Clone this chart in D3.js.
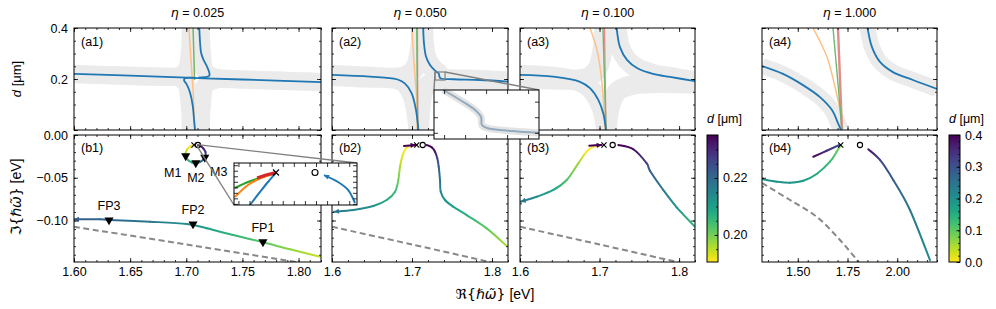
<!DOCTYPE html>
<html>
<head>
<meta charset="utf-8">
<script src="https://cdn.jsdelivr.net/npm/d3@7"></script>
<style>
  body { margin: 0; background: #fff; }
</style>
</head>
<body>
<svg id="fig" width="996" height="309"></svg>
<script>
"use strict";
// ---------------- data ----------------
const etaLabels = ["0.025", "0.050", "0.100", "1.000"];
const reDomain = [1.60, 1.82], reDomainWide = [1.32, 2.20];
const dDomain = [0, 0.4], imDomain = [-0.1485, 0];
const cbNarrow = [0.1905, 0.2351], cbWide = [0, 0.4];

// top row: [Re, d]
const a1BlueH = [[1.600, 0.220], [1.650, 0.213], [1.700, 0.205], [1.750, 0.198], [1.820, 0.188]];
const a1BlueUp = [[1.7116, 0.400], [1.7123, 0.342], [1.7132, 0.303], [1.7152, 0.277], [1.7182, 0.251], [1.7205, 0.225], [1.7205, 0.213], [1.7167, 0.207], [1.7108, 0.205]];
const a1BlueLow = [[1.7078, 0.205], [1.6989, 0.203], [1.6980, 0.195], [1.7004, 0.179], [1.7034, 0.146], [1.7058, 0.094], [1.7069, 0.042], [1.7078, 0.0]];
const a1Orange = [[1.7024, 0.40], [1.7042, 0.275], [1.7060, 0.157], [1.7074, 0.0]];
const a1Green = [[1.7060, 0.40], [1.7069, 0.275], [1.7074, 0.196]];
const a1GrayUL = [[1.600, 0.220], [1.680, 0.209], [1.694, 0.212], [1.700, 0.235], [1.703, 0.30], [1.704, 0.40]];
const a1GrayLL = [[1.600, 0.220], [1.680, 0.209], [1.694, 0.205], [1.700, 0.18], [1.703, 0.10], [1.704, 0.0]];
const a1GrayUR = [[1.713, 0.40], [1.714, 0.30], [1.717, 0.228], [1.727, 0.205], [1.750, 0.198], [1.820, 0.188]];
const a1GrayLR = [[1.713, 0.0], [1.714, 0.10], [1.717, 0.175], [1.727, 0.198], [1.750, 0.198], [1.820, 0.188]];

const a2BlueL = [[1.600, 0.216], [1.6475, 0.209], [1.681, 0.199], [1.691, 0.183], [1.6996, 0.144], [1.705, 0.078], [1.708, 0.0]];
const a2BlueR = [[1.714, 0.40], [1.715, 0.340], [1.7175, 0.288], [1.7225, 0.255], [1.7288, 0.233], [1.7335, 0.221], [1.7345, 0.207], [1.736, 0.202], [1.752, 0.199], [1.785, 0.196], [1.820, 0.190]];
const a2Orange = [[1.6996, 0.40], [1.7029, 0.248], [1.7059, 0.118], [1.7066, 0.0]];
const a2Green = [[1.7059, 0.40], [1.7071, 0.0]];
const a2Red = [[1.7068, 0.40], [1.7073, 0.0]];
const a2GrayUL = [[1.600, 0.212], [1.670, 0.205], [1.692, 0.212], [1.704, 0.245], [1.710, 0.32], [1.712, 0.40]];
const a2GrayLR = [[1.709, 0.0], [1.711, 0.10], [1.716, 0.165], [1.728, 0.188], [1.750, 0.192], [1.820, 0.188]];
const a2InsetLine = [[1.7299, 0.2275], [1.7323, 0.2198], [1.7337, 0.2146], [1.7344, 0.2101], [1.7345, 0.2050], [1.7351, 0.2031], [1.7382, 0.2011], [1.7413, 0.1999]];
const a2InsetX = [1.7288, 1.7413], a2InsetD = [0.196, 0.2275];

const a3BlueL = [[1.600, 0.216], [1.6419, 0.209], [1.6754, 0.189], [1.688, 0.164], [1.6984, 0.118], [1.7047, 0.065], [1.7081, 0.0]];
const a3BlueR = [[1.7215, 0.40], [1.7257, 0.325], [1.7345, 0.275], [1.7471, 0.243], [1.7672, 0.220], [1.7886, 0.208], [1.820, 0.192]];
const a3Orange = [[1.688, 0.40], [1.6968, 0.314], [1.7031, 0.184], [1.7069, 0.0]];
const a3Green = [[1.7043, 0.40], [1.7081, 0.0]];
const a3Red = [[1.7062, 0.40], [1.7081, 0.0]];
const a3GrayUL = [[1.600, 0.205], [1.660, 0.197], [1.686, 0.207], [1.698, 0.245], [1.704, 0.32], [1.706, 0.40]];
const a3GrayLR = [[1.709, 0.0], [1.713, 0.09], [1.722, 0.15], [1.740, 0.176], [1.770, 0.184], [1.820, 0.182]];

const a4BlueL = [[1.320, 0.251], [1.4256, 0.220], [1.5261, 0.176], [1.6116, 0.129], [1.6719, 0.078], [1.7021, 0.027], [1.7172, 0.0]];
const a4BlueR = [[1.851, 0.40], [1.873, 0.325], [1.9132, 0.267], [1.9786, 0.227], [2.0791, 0.196], [2.200, 0.161]];
const a4Orange = [[1.5764, 0.40], [1.6468, 0.286], [1.687, 0.169], [1.7121, 0.078], [1.7222, 0.0]];
const a4Green = [[1.677, 0.40], [1.700, 0.20], [1.7222, 0.0]];
const a4Red = [[1.7021, 0.40], [1.7222, 0.0]];

// bottom row: [Re, Im, d]
const b1Main = [[1.600, -0.0986, 0.222], [1.6232, -0.0986, 0.221], [1.632, -0.0994, 0.220], [1.6677, -0.1014, 0.217], [1.7004, -0.1041, 0.213], [1.7182, -0.1091, 0.210], [1.7419, -0.1170, 0.206], [1.7686, -0.1255, 0.202], [1.7924, -0.1337, 0.198], [1.8191, -0.1423, 0.194]];
const b1Loop = [[1.7069, -0.0117, 0.190], [1.7033, -0.0135, 0.191], [1.7007, -0.0170, 0.193], [1.6993, -0.0216, 0.196], [1.6998, -0.0257, 0.200], [1.7020, -0.0298, 0.205], [1.7051, -0.0322, 0.209], [1.7087, -0.0327, 0.213], [1.7122, -0.0316, 0.217], [1.7153, -0.0287, 0.221], [1.7171, -0.0246, 0.225], [1.7171, -0.0199, 0.228], [1.7153, -0.0158, 0.231], [1.7127, -0.0129, 0.233], [1.7104, -0.0117, 0.235]];
const b1Dash = [[1.60, -0.1073], [1.70, -0.1280], [1.80, -0.1490]];
const b1FP = [[1.6312, -0.0994], [1.7060, -0.1041], [1.7683, -0.1251]];
const b1FPNames = ["FP3", "FP2", "FP1"];
const b1M = [[1.6995, -0.0245], [1.7085, -0.0327], [1.7165, -0.0262]];
const b1MNames = ["M1", "M2", "M3"];
const b1Poles = [[1.7069, -0.0117], [1.7104, -0.0117]];

const b1InsetX = [1.7031, 1.7142], b1InsetY = [-0.0146, -0.0108];
const b1InsBlueL = [[1.70454, -0.01460], [1.70545, -0.01342], [1.70617, -0.01252], [1.70689, -0.01170]];
const b1InsOrange = [[1.70319, -0.01388], [1.70436, -0.01279], [1.70554, -0.01216], [1.70689, -0.01170]];
const b1InsGreen = [[1.70319, -0.01306], [1.70436, -0.01252], [1.70554, -0.01211], [1.70689, -0.01170]];
const b1InsRed = [[1.70518, -0.01216], [1.70599, -0.01189], [1.70689, -0.01166]];
const b1InsBlueR = [[1.71122, -0.01189], [1.71249, -0.01252], [1.71339, -0.01324], [1.71402, -0.01442]];
const b1InsPoles = [[1.70689, -0.01166], [1.71041, -0.01166]];

const b2Left = [[1.6025, -0.0897, 0.217], [1.6267, -0.0877, 0.215], [1.6517, -0.0830, 0.2126], [1.6684, -0.0760, 0.208], [1.6788, -0.0663, 0.205], [1.6829, -0.0526, 0.200], [1.6850, -0.0371, 0.196], [1.6884, -0.0234, 0.192], [1.6925, -0.0156, 0.190], [1.6975, -0.0129, 0.188], [1.7059, -0.0117, 0.185]];
const b2Purple = [[1.690, -0.0128, 0.40], [1.7045, -0.0117, 0.40]];
const b2Right = [[1.7184, -0.0117, 0.40], [1.7246, -0.0144, 0.240], [1.7288, -0.0195, 0.232], [1.7316, -0.0273, 0.226], [1.7334, -0.0371, 0.222], [1.7350, -0.0526, 0.218], [1.7359, -0.0663, 0.214], [1.7413, -0.0760, 0.212], [1.7516, -0.0839, 0.210], [1.7684, -0.0936, 0.207], [1.7934, -0.1092, 0.2016], [1.8184, -0.1298, 0.196]];
const b2Poles = [[1.7059, -0.0117], [1.7134, -0.0117]];

const b3Left = [[1.6009, -0.0780, 0.217], [1.6210, -0.0722, 0.213], [1.6419, -0.0643, 0.209], [1.6587, -0.0526, 0.203], [1.6733, -0.0331, 0.197], [1.6838, -0.0195, 0.190], [1.6922, -0.0137, 0.188], [1.7006, -0.0117, 0.186]];
const b3Purple = [[1.6871, -0.0125, 0.40], [1.7027, -0.0117, 0.40]];
const b3Right = [[1.7236, -0.0117, 0.40], [1.7424, -0.0167, 0.234], [1.7593, -0.0331, 0.226], [1.7634, -0.0418, 0.222], [1.7801, -0.0643, 0.217], [1.7970, -0.0846, 0.212], [1.8200, -0.1073, 0.205]];
const b3Poles = [[1.7056, -0.0117], [1.7165, -0.0117]];

const b4Left = [[1.3235, -0.0518, 0.20], [1.3939, -0.0546, 0.195], [1.4608, -0.0558, 0.19], [1.5278, -0.0535, 0.18], [1.5950, -0.0456, 0.16], [1.6619, -0.0312, 0.13], [1.6955, -0.0195, 0.10], [1.7157, -0.0117, 0.08]];
const b4Purple = [[1.5780, -0.0254, 0.39], [1.6453, -0.0184, 0.35], [1.7086, -0.0117, 0.30]];
const b4Right = [[1.8545, -0.0167, 0.38], [1.9133, -0.0292, 0.32], [1.9801, -0.0526, 0.28], [2.0641, -0.0877, 0.24], [2.1646, -0.1462, 0.21]];
const b4Dash = [[1.320, -0.0561], [1.4608, -0.0760], [1.5965, -0.0959], [1.7122, -0.1228], [1.7977, -0.1462], [1.810, -0.1500]];
const b4Poles = [[1.7157, -0.0117], [1.8127, -0.0117]];

// ticks
const dMajor = [0, 0.2, 0.4];
const imMajor = [0, -0.05, -0.10];
const reMajorFine = [1.60, 1.65, 1.70, 1.75, 1.80];
const reMajor = [1.6, 1.7, 1.8];
const reMajorWide = [1.50, 1.75, 2.00];
const cbNarrowMajor = [0.20, 0.22];
const cbWideMajor = [0, 0.1, 0.2, 0.3, 0.4];

// ---------------- drawing ----------------
const FONT = "'Liberation Sans', Arial, Helvetica, sans-serif";
const MATH = "'DejaVu Sans', sans-serif";
const FS = 12.5;
const BLUE = "#1f77b4", ORANGE_L = "#ffbf86", GREEN_L = "#6fb86f", RED_L = "#e58a8a", GRAY_BAND = "#ebebeb";
const svg = d3.select("#fig");
const defs = svg.append("defs");
let uid = 0;

const cols = [[74, 321], [332, 508], [520, 695], [762, 937]];
const topRow = [28, 130], botRow = [135, 262];

function panel(xDom, xr, yDom, yr) {
  const x = d3.scaleLinear().domain(xDom).range(xr);
  const y = d3.scaleLinear().domain(yDom).range([yr[1], yr[0]]);
  const cid = "clip" + (uid++);
  defs.append("clipPath").attr("id", cid).append("rect")
    .attr("x", xr[0]).attr("y", yr[0]).attr("width", xr[1] - xr[0]).attr("height", yr[1] - yr[0]);
  const g = svg.append("g");
  const plot = g.append("g").attr("clip-path", `url(#${cid})`);
  const axes = g.append("g");
  return { x, y, plot, axes, xr, yr };
}

function tickAxis(g, axis, scale, vals, size, tr, fmt, pad) {
  const a = axis(scale).tickValues(vals).tickSize(-size).tickSizeOuter(0)
    .tickPadding(pad || 0).tickFormat(fmt || (() => ""));
  const s = g.append("g").attr("transform", tr).call(a);
  s.select(".domain").remove();
  s.selectAll("line").attr("stroke", "#000").attr("stroke-width", 0.8);
  s.selectAll("text").attr("font-size", FS).attr("font-family", FONT).attr("fill", "#000");
  return s;
}

function frame(p, xMaj, xMin, yMaj, yMin, xFmt, yFmt) {
  const [l, r] = p.xr, [t, b] = p.yr;
  const sides = [
    [d3.axisBottom, p.x, `translate(0,${b})`, xMaj, xMin, xFmt, 5],
    [d3.axisTop, p.x, `translate(0,${t})`, xMaj, xMin, null, 0],
    [d3.axisLeft, p.y, `translate(${l},0)`, yMaj, yMin, yFmt, 6],
    [d3.axisRight, p.y, `translate(${r},0)`, yMaj, yMin, null, 0]];
  sides.forEach(([ax, s, tr, maj, min, fmt, pad]) => {
    tickAxis(p.axes, ax, s, min, 2, tr, null, 0);
    tickAxis(p.axes, ax, s, maj, 4, tr, fmt, pad);
  });
  p.axes.append("rect").attr("x", l).attr("y", t).attr("width", r - l).attr("height", b - t)
    .attr("fill", "none").attr("stroke", "#000").attr("stroke-width", 1);
}

function line(g, pts, x, y, color, w, dash) {
  const gen = d3.line().x(d => x(d[0])).y(d => y(d[1])).curve(d3.curveCatmullRom);
  const el = g.append("path").attr("d", gen(pts)).attr("fill", "none")
    .attr("stroke", color).attr("stroke-width", w).attr("stroke-linejoin", "round");
  if (dash) el.attr("stroke-dasharray", dash);
  return el;
}

function colorScale(dom) {
  return d => d3.interpolateViridis(1 - Math.max(0, Math.min(1, (d - dom[0]) / (dom[1] - dom[0]))));
}

// d-coloured curve: one cubic piece per data interval, each with its own gradient
function colorPath(g, pts, x, y, col, w) {
  const P = pts.map(p => [x(p[0]), y(p[1]), p[2]]);
  for (let i = 0; i < P.length - 1; i++) {
    const p0 = P[Math.max(i - 1, 0)], p1 = P[i], p2 = P[i + 1], p3 = P[Math.min(i + 2, P.length - 1)];
    const c1 = [p1[0] + (p2[0] - p0[0]) / 6, p1[1] + (p2[1] - p0[1]) / 6];
    const c2 = [p2[0] - (p3[0] - p1[0]) / 6, p2[1] - (p3[1] - p1[1]) / 6];
    const id = "lg" + (uid++);
    const lg = defs.append("linearGradient").attr("id", id).attr("gradientUnits", "userSpaceOnUse")
      .attr("x1", p1[0]).attr("y1", p1[1]).attr("x2", p2[0] + 0.01).attr("y2", p2[1]);
    lg.append("stop").attr("offset", 0).attr("stop-color", col(p1[2]));
    lg.append("stop").attr("offset", 1).attr("stop-color", col(p2[2]));
    g.append("path").attr("d", `M${p1[0]},${p1[1]}C${c1[0]},${c1[1]} ${c2[0]},${c2[1]} ${p2[0]},${p2[1]}`)
      .attr("fill", "none").attr("stroke", `url(#${id})`).attr("stroke-width", w).attr("stroke-linecap", "round");
  }
}

function arrowHead(g, tip, from, color, len, half) {
  const dx = tip[0] - from[0], dy = tip[1] - from[1], L = Math.hypot(dx, dy) || 1;
  const ux = dx / L, uy = dy / L, bx = tip[0] - ux * len, by = tip[1] - uy * len;
  g.append("path").attr("d", `M${tip[0]},${tip[1]}L${bx - uy * half},${by + ux * half}L${bx + uy * half},${by - ux * half}Z`)
    .attr("fill", color);
}

function arrowAt(g, pts, x, y, color, atEnd) {
  const n = pts.length;
  const tip = atEnd ? pts[n - 1] : pts[0], from = atEnd ? pts[n - 2] : pts[1];
  arrowHead(g, [x(tip[0]), y(tip[1])], [x(from[0]), y(from[1])], color, 5, 2.6);
}

function poles(g, pp, x, y, r) {
  const [cx, cy] = [x(pp[0][0]), y(pp[0][1])];
  g.append("path").attr("d", `M${cx - r},${cy - r}L${cx + r},${cy + r}M${cx - r},${cy + r}L${cx + r},${cy - r}`)
    .attr("stroke", "#000").attr("stroke-width", 1.1);
  g.append("circle").attr("cx", x(pp[1][0])).attr("cy", y(pp[1][1])).attr("r", r)
    .attr("fill", "none").attr("stroke", "#000").attr("stroke-width", 1.1);
}

function tri(g, pt, x, y) {
  g.append("path").attr("d", d3.symbol(d3.symbolTriangle, 36)())
    .attr("transform", `translate(${x(pt[0])},${y(pt[1])}) rotate(180)`).attr("fill", "#000");
}

function label(g, x, y, txt, anchor) {
  return g.append("text").attr("x", x).attr("y", y).attr("font-family", FONT).attr("font-size", FS)
    .attr("text-anchor", anchor || "start").attr("fill", "#000").text(txt);
}

const f1 = d3.format(".1f"), f2 = d3.format(".2f");
const dMinor = d3.range(0, 0.4001, 0.05);
const imMinor = d3.range(-0.14, 0.0001, 0.01);
const reMinorFine = d3.range(1.60, 1.8201, 0.01);
const reMinor = d3.range(1.60, 1.8201, 0.02);
const reMinorWide = d3.range(1.35, 2.2001, 0.05);

// ---- top row ----
const A = [0, 1, 2, 3].map(i => panel(i === 3 ? reDomainWide : reDomain, cols[i], dDomain, topRow));
const B = [0, 1, 2, 3].map(i => panel(i === 3 ? reDomainWide : reDomain, cols[i], imDomain, botRow));

function gray(p, arrs, w) { arrs.forEach(a => line(p.plot, a, p.x, p.y, GRAY_BAND, w)); }

gray(A[0], [a1GrayUL, a1GrayLL, a1GrayUR, a1GrayLR], 18);
gray(A[1], [a2GrayUL, a2BlueL, a2BlueR, a2GrayLR], 20);
gray(A[2], [a3GrayUL, a3BlueL, a3BlueR, a3GrayLR], 20);
gray(A[3], [a4BlueL, a4BlueR], 16);

line(A[0].plot, a1Orange, A[0].x, A[0].y, ORANGE_L, 1.5);
line(A[0].plot, a1Green, A[0].x, A[0].y, GREEN_L, 1.5);
[a1BlueH, a1BlueUp, a1BlueLow].forEach(a => line(A[0].plot, a, A[0].x, A[0].y, BLUE, 1.8));

[[A[1], a2Orange, a2Red, a2Green, a2BlueL, a2BlueR], [A[2], a3Orange, a3Red, a3Green, a3BlueL, a3BlueR],
 [A[3], a4Orange, a4Red, a4Green, a4BlueL, a4BlueR]].forEach(([p, o, r, gr, bl, br]) => {
  line(p.plot, o, p.x, p.y, ORANGE_L, 1.5);
  line(p.plot, r, p.x, p.y, RED_L, p === A[3] ? 2.4 : 1.3);
  line(p.plot, gr, p.x, p.y, GREEN_L, 1.4);
  line(p.plot, bl, p.x, p.y, BLUE, 1.8);
  line(p.plot, br, p.x, p.y, BLUE, 1.8);
});

A.forEach((p, i) => {
  const wide = i === 3;
  frame(p, wide ? reMajorWide : (i === 0 ? reMajorFine : reMajor), wide ? reMinorWide : (i === 0 ? reMinorFine : reMinor),
    dMajor, dMinor, null, i === 0 ? (v => v === 0 ? "" : f1(v)) : null);
  label(p.axes, p.xr[0] + 7, p.yr[0] + 18, `(a${i + 1})`);
  const t = svg.append("text").attr("x", (p.xr[0] + p.xr[1]) / 2).attr("y", 17).attr("text-anchor", "middle")
    .attr("font-family", FONT).attr("font-size", FS);
  t.append("tspan").attr("font-family", MATH).attr("font-style", "italic").text("η");
  t.append("tspan").text(" = " + etaLabels[i]);
});

// ---- bottom row ----
const cN = colorScale(cbNarrow), cW = colorScale(cbWide);
[B[0], B[1], B[2]].forEach(p => line(p.plot, b1Dash, p.x, p.y, "#888", 2, "6,3.5"));
line(B[3].plot, b4Dash, B[3].x, B[3].y, "#888", 2, "6,3.5");

{ const p = B[0];
  colorPath(p.plot, b1Main, p.x, p.y, cN, 2);
  arrowAt(p.plot, b1Main, p.x, p.y, cN(b1Main[0][2]), false);
  colorPath(p.plot, b1Loop, p.x, p.y, cN, 2);
  poles(p.plot, b1Poles, p.x, p.y, 2.6);
  b1FP.forEach((pt, i) => { tri(p.plot, pt, p.x, p.y); label(p.plot, p.x(pt[0]), p.y(pt[1]) - 10, b1FPNames[i], "middle"); });
  const mOff = [[-13, 21], [0, 19], [14, 19]];
  b1M.forEach((pt, i) => { tri(p.plot, pt, p.x, p.y); label(p.plot, p.x(pt[0]) + mOff[i][0], p.y(pt[1]) + mOff[i][1], b1MNames[i], "middle"); });
}
[[B[1], b2Left, b2Purple, b2Right, b2Poles], [B[2], b3Left, b3Purple, b3Right, b3Poles]].forEach(([p, L, P, R, pp]) => {
  colorPath(p.plot, L, p.x, p.y, cN, 2);
  arrowAt(p.plot, L, p.x, p.y, cN(L[0][2]), false);
  colorPath(p.plot, R, p.x, p.y, cN, 2);
  colorPath(p.plot, P, p.x, p.y, cN, 2);
  arrowAt(p.plot, P, p.x, p.y, cN(0.4), true);
  poles(p.plot, pp, p.x, p.y, 2.6);
});
{ const p = B[3];
  colorPath(p.plot, b4Left, p.x, p.y, cW, 2);
  colorPath(p.plot, b4Purple, p.x, p.y, cW, 2);
  colorPath(p.plot, b4Right, p.x, p.y, cW, 2);
  poles(p.plot, b4Poles, p.x, p.y, 2.6);
}

B.forEach((p, i) => {
  const wide = i === 3;
  frame(p, wide ? reMajorWide : (i === 0 ? reMajorFine : reMajor), wide ? reMinorWide : (i === 0 ? reMinorFine : reMinor),
    imMajor, imMinor, (i === 0 || wide) ? f2 : f1, i === 0 ? f2 : null);
  label(p.axes, p.xr[0] + 7, p.yr[0] + 17, `(b${i + 1})`);
});

// ---- colour bars ----
function colorbar(x0, dom, major, minorStep, fmt) {
  const w = 11, [t, b] = botRow;
  const id = "cb" + (uid++);
  const lg = defs.append("linearGradient").attr("id", id).attr("x1", 0).attr("y1", 1).attr("x2", 0).attr("y2", 0);
  d3.range(0, 1.0001, 0.05).forEach(s => lg.append("stop").attr("offset", s).attr("stop-color", d3.interpolateViridis(1 - s)));
  const g = svg.append("g");
  g.append("rect").attr("x", x0).attr("y", t).attr("width", w).attr("height", b - t).attr("fill", `url(#${id})`);
  const y = d3.scaleLinear().domain(dom).range([b, t]);
  const minor = d3.range(Math.ceil(dom[0] / minorStep) * minorStep, dom[1], minorStep);
  tickAxis(g, d3.axisRight, y, minor, 2, `translate(${x0 + w},0)`, null, 0);
  tickAxis(g, d3.axisRight, y, major, 3.5, `translate(${x0 + w},0)`, fmt, 5);
  g.append("rect").attr("x", x0).attr("y", t).attr("width", w).attr("height", b - t)
    .attr("fill", "none").attr("stroke", "#000").attr("stroke-width", 1);
  const tx = g.append("text").attr("x", x0).attr("y", 123).attr("font-family", FONT).attr("font-size", FS);
  tx.append("tspan").attr("font-style", "italic").text("d");
  tx.append("tspan").text(" [μm]");
}
colorbar(707, cbNarrow, cbNarrowMajor, 0.005, f2);
colorbar(949, cbWide, cbWideMajor, 0.02, f1);

// ---- axis titles ----
function mathLabel(x, y, rot, pre) {
  const t = svg.append("text").attr("transform", `translate(${x},${y})${rot ? " rotate(-90)" : ""}`)
    .attr("text-anchor", "middle").attr("font-family", FONT).attr("font-size", 14);
  t.append("tspan").attr("font-family", MATH).text(pre + "{");
  t.append("tspan").attr("font-family", MATH).attr("font-style", "italic").text("ℏω\u0303");
  t.append("tspan").attr("font-family", MATH).text("}");
  t.append("tspan").text(" [eV]");
}
{ const t = svg.append("text").attr("transform", "translate(21,79) rotate(-90)").attr("text-anchor", "middle")
    .attr("font-family", FONT).attr("font-size", 13);
  t.append("tspan").attr("font-style", "italic").text("d");
  t.append("tspan").text(" [μm]"); }
mathLabel(21, 197, true, "ℑ");
mathLabel(495, 299, false, "ℜ");

// ---- inset on (a2) ----
{ const p = A[1];
  const ix = d3.scaleLinear().domain(a2InsetX).range([434, 539]);
  const iy = d3.scaleLinear().domain(a2InsetD).range([139, 90]);
  const rx = [p.x(a2InsetX[0]), p.x(a2InsetX[1])], ry = [p.y(a2InsetD[1]), p.y(a2InsetD[0])];
  svg.append("rect").attr("x", rx[0]).attr("y", ry[0]).attr("width", rx[1] - rx[0]).attr("height", ry[1] - ry[0])
    .attr("fill", "none").attr("stroke", "#808080").attr("stroke-width", 1.2);
  svg.append("path").attr("d", `M${rx[0]},${ry[0]}L434,90M${rx[1]},${ry[0]}L539,90`).attr("stroke", "#808080").attr("stroke-width", 1.4);
  const ip = { x: ix, y: iy, xr: [434, 539], yr: [90, 139] };
  const g = svg.append("g");
  g.append("rect").attr("x", 434).attr("y", 90).attr("width", 105).attr("height", 49).attr("fill", "#fff");
  const pl = g.append("g");
  line(pl, a2InsetLine, ix, iy, "#e3e3e3", 7);
  line(pl, a2InsetLine, ix, iy, "#93abbf", 2);
  ip.axes = g.append("g");
  frame(ip, d3.range(1.7300, 1.7413, 0.0025), [], [0.20, 0.21, 0.22], [], null, null);
}

// ---- inset on (b1) ----
{ const p = B[0];
  const ix = d3.scaleLinear().domain(b1InsetX).range([234, 357]);
  const iy = d3.scaleLinear().domain(b1InsetY).range([205, 163]);
  svg.append("path").attr("d", `M${p.x(1.7098)},${p.y(-0.0112)}L357,163M${p.x(1.7095)},${p.y(-0.0128)}L234,205`)
    .attr("stroke", "#808080").attr("stroke-width", 1.4);
  const g = svg.append("g");
  g.append("rect").attr("x", 234).attr("y", 163).attr("width", 123).attr("height", 42).attr("fill", "#fff");
  const cid = "clip" + (uid++);
  defs.append("clipPath").attr("id", cid).append("rect").attr("x", 234).attr("y", 163).attr("width", 123).attr("height", 42);
  const pl = g.append("g").attr("clip-path", `url(#${cid})`);
  line(pl, b1InsGreen, ix, iy, "#2ca02c", 2);
  line(pl, b1InsOrange, ix, iy, "#ff7f0e", 2);
  line(pl, b1InsBlueL, ix, iy, BLUE, 2);
  line(pl, b1InsRed, ix, iy, "#d62728", 3);
  line(pl, b1InsBlueR, ix, iy, BLUE, 2);
  arrowAt(pl, b1InsBlueR, ix, iy, BLUE, false);
  poles(pl, b1InsPoles, ix, iy, 3);
  const ip = { x: ix, y: iy, xr: [234, 357], yr: [163, 205], axes: g.append("g") };
  frame(ip, d3.range(1.7035, 1.7142, 0.001), [], d3.range(-0.0145, -0.0108, 0.0005), [], null, null);
}
</script>
</body>
</html>
